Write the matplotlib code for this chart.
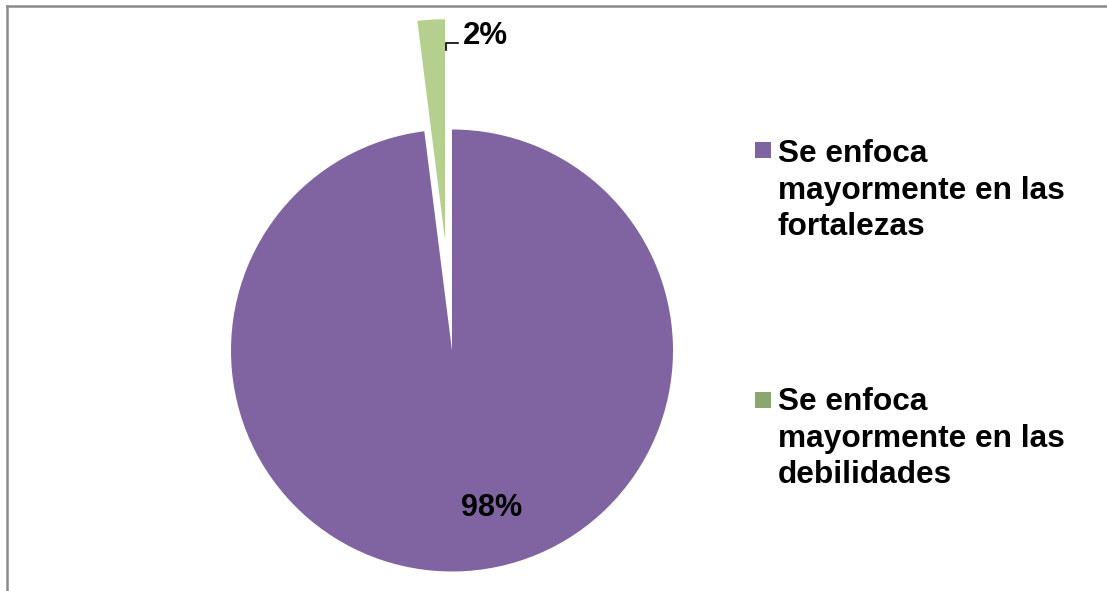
import matplotlib
matplotlib.use("Agg")
import matplotlib.pyplot as plt
from matplotlib.patches import Rectangle
from matplotlib.lines import Line2D

# ---- data ----
categories = ["Se enfoca\nmayormente en las\nfortalezas",
              "Se enfoca\nmayormente en las\ndebilidades"]
values = [98, 2]
pct_labels = ["98%", "2%"]
explode = [0.0, 0.5]
pie_colors = ["#8064A2", "#B5CF8E"]
legend_colors = ["#8064A2", "#8DA66D"]

W, H = 1107, 591
DPI = 100
plt.rcParams['font.family'] = ['Liberation Sans', 'DejaVu Sans']

fig = plt.figure(figsize=(W / DPI, H / DPI), dpi=DPI)
fig.patch.set_facecolor("white")

# pie axes covering the whole figure, data unit = radius in px
cx, cy, R = 452.0, 350.5, 221.0
ax = fig.add_axes([0, 0, 1, 1])
wedges, _ = ax.pie(values, colors=pie_colors, startangle=90, counterclock=False,
                   explode=explode, radius=1.0, center=(0, 0),
                   wedgeprops=dict(linewidth=0))
ax.set_aspect('auto')
ax.set_xlim(-cx / R, (W - cx) / R)
ax.set_ylim(-(H - cy) / R, cy / R)
ax.axis('off')

def px(x, y):
    """pixel (from top-left) -> data coords"""
    return ((x - cx) / R, (cy - y) / R)

# percentage labels
ax.text(*px(492, 508), pct_labels[0], ha='center', va='center',
        fontsize=22, fontweight='bold', color='black')
ax.text(*px(485, 36), pct_labels[1], ha='center', va='center',
        fontsize=22.5, fontweight='bold', color='black')
# leader line of the 2% label
lx, ly = zip(px(446, 50), px(446, 43), px(458, 43))
ax.plot(lx, ly, color='black', lw=1.2, solid_joinstyle='miter')

# legend (manual)
marker_tops = [142, 392]
first_baselines = [162, 410]
line_step = 36.5
for cat, col, mt, bl in zip(categories, legend_colors, marker_tops, first_baselines):
    fig.patches.append(Rectangle((755 / W, 1 - (mt + 16) / H), 16 / W, 16 / H,
                                 transform=fig.transFigure, facecolor=col,
                                 edgecolor='none'))
    for i, line in enumerate(cat.split("\n")):
        fig.text(778 / W, 1 - (bl + i * line_step) / H, line, ha='left',
                 va='baseline', fontsize=22.8, fontweight='bold', color='black')

# outer frame (top and left edges visible)
fig.lines.append(Line2D([7 / W, 1.0], [1 - 6 / H, 1 - 6 / H],
                        transform=fig.transFigure, color='#8a8a8a', lw=1.8))
fig.lines.append(Line2D([7 / W, 7 / W], [0, 1 - 6 / H],
                        transform=fig.transFigure, color='#8a8a8a', lw=1.8))

fig.savefig("out.png", dpi=DPI, facecolor="white")
